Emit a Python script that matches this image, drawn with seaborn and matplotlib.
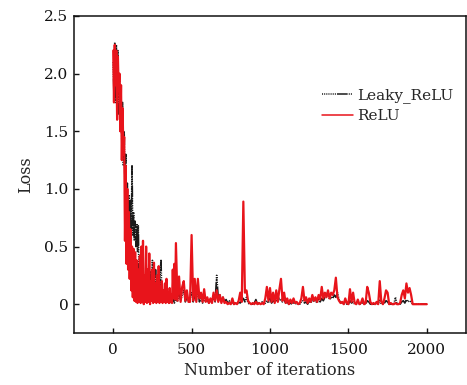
import numpy as np
import pandas as pd
import matplotlib
matplotlib.use("Agg")
import matplotlib.pyplot as plt
import seaborn as sns

# ---- data ----
iters_early = list(range(0, 400, 5))
iters_late = list(range(400, 2001, 10))

relu_early = [
    2.2, 1.75, 2.25, 1.9, 2.2, 1.6, 2.15, 1.85, 2.0, 1.5,
    1.9, 1.25, 1.7, 1.3, 1.45, 0.55, 1.2, 0.35, 1.0, 0.3,
    0.8, 0.22, 0.65, 0.12, 0.5, 0.06, 0.48, 0.03, 0.45, 0.02,
    0.38, 0.01, 0.3, 0.02, 0.42, 0.01, 0.5, 0.02, 0.55, 0.0,
    0.25, 0.02, 0.5, 0.01, 0.3, 0.02, 0.44, 0.0, 0.2, 0.03,
    0.3, 0.01, 0.36, 0.02, 0.18, 0.01, 0.25, 0.02, 0.33, 0.01,
    0.15, 0.02, 0.2, 0.01, 0.12, 0.02, 0.18, 0.01, 0.22, 0.02,
    0.1, 0.01, 0.14, 0.02, 0.08, 0.01, 0.3, 0.05, 0.35, 0.04,
]
relu_late = [
    0.53, 0.03, 0.24, 0.02, 0.15, 0.2, 0.03, 0.12, 0.02, 0.02,
    0.6, 0.03, 0.22, 0.02, 0.22, 0.05, 0.1, 0.02, 0.13, 0.02,
    0.06, 0.01, 0.05, 0.01, 0.1, 0.03, 0.12, 0.02, 0.08, 0.01,
    0.06, 0.01, 0.02, 0.0, 0.01, 0.0, 0.05, 0.0, 0.01, 0.0,
    0.03, 0.1, 0.02, 0.89, 0.1, 0.12, 0.03, 0.01, 0.0, 0.01,
    0.0, 0.02, 0.0, 0.01, 0.0, 0.01, 0.0, 0.05, 0.15, 0.03,
    0.14, 0.02, 0.1, 0.01, 0.12, 0.02, 0.13, 0.22, 0.03, 0.1,
    0.01, 0.05, 0.0, 0.04, 0.01, 0.05, 0.01, 0.02, 0.0, 0.01,
    0.05, 0.15, 0.03, 0.06, 0.01, 0.05, 0.02, 0.08, 0.03, 0.06,
    0.02, 0.08, 0.04, 0.15, 0.05, 0.1, 0.06, 0.12, 0.05, 0.1,
    0.08, 0.12, 0.23, 0.06, 0.03, 0.01, 0.02, 0.0, 0.05, 0.01,
    0.0, 0.13, 0.02, 0.1, 0.01, 0.0, 0.04, 0.0, 0.01, 0.05,
    0.0, 0.01, 0.15, 0.1, 0.02, 0.0, 0.01, 0.0, 0.02, 0.0,
    0.2, 0.02, 0.0, 0.05, 0.12, 0.1, 0.0, 0.01, 0.0, 0.0,
    0.01, 0.0, 0.0, 0.01, 0.08, 0.12, 0.05, 0.18, 0.1, 0.14,
    0.08, 0.0, 0.0, 0.0, 0.0, 0.0, 0.0, 0.0, 0.0, 0.0,
    0.0,
]

leaky_early = [
    2.1, 1.8, 2.27, 1.75, 2.25, 1.8, 2.2, 1.65, 2.0, 1.55,
    1.85, 1.4, 1.75, 1.2, 1.5, 1.0, 1.3, 0.8, 1.05, 0.65,
    0.95, 0.6, 0.9, 0.55, 1.2, 0.6, 0.8, 0.55, 0.72, 0.5,
    0.7, 0.45, 0.68, 0.2, 0.4, 0.03, 0.25, 0.02, 0.2, 0.03,
    0.15, 0.02, 0.2, 0.03, 0.25, 0.05, 0.3, 0.05, 0.28, 0.1,
    0.38, 0.08, 0.35, 0.05, 0.3, 0.04, 0.22, 0.05, 0.2, 0.06,
    0.3, 0.38, 0.05, 0.12, 0.03, 0.1, 0.02, 0.08, 0.02, 0.06,
    0.02, 0.05, 0.01, 0.04, 0.01, 0.05, 0.02, 0.06, 0.01, 0.03,
]
leaky_late = [
    0.05, 0.02, 0.1, 0.03, 0.08, 0.12, 0.02, 0.06, 0.03, 0.05,
    0.1, 0.02, 0.08, 0.03, 0.12, 0.02, 0.06, 0.01, 0.05, 0.02,
    0.04, 0.01, 0.03, 0.02, 0.06, 0.02, 0.25, 0.05, 0.08, 0.02,
    0.06, 0.02, 0.04, 0.01, 0.03, 0.0, 0.02, 0.0, 0.01, 0.0,
    0.02, 0.01, 0.03, 0.05, 0.02, 0.06, 0.01, 0.0, 0.01, 0.0,
    0.01, 0.04, 0.0, 0.01, 0.0, 0.02, 0.0, 0.01, 0.03, 0.01,
    0.05, 0.01, 0.03, 0.02, 0.04, 0.02, 0.05, 0.03, 0.02, 0.04,
    0.01, 0.02, 0.0, 0.01, 0.0, 0.02, 0.0, 0.01, 0.0, 0.0,
    0.02, 0.03, 0.01, 0.02, 0.0, 0.03, 0.01, 0.04, 0.02, 0.03,
    0.01, 0.04, 0.02, 0.05, 0.03, 0.06, 0.1, 0.08, 0.04, 0.06,
    0.05, 0.08, 0.06, 0.1, 0.04, 0.02, 0.01, 0.0, 0.02, 0.0,
    0.0, 0.03, 0.01, 0.02, 0.0, 0.0, 0.01, 0.0, 0.0, 0.02,
    0.0, 0.0, 0.03, 0.02, 0.0, 0.0, 0.0, 0.0, 0.01, 0.0,
    0.04, 0.0, 0.0, 0.01, 0.03, 0.02, 0.0, 0.0, 0.0, 0.0,
    0.06, 0.0, 0.0, 0.0, 0.02, 0.03, 0.01, 0.04, 0.02, 0.03,
    0.02, 0.0, 0.0, 0.0, 0.0, 0.0, 0.0, 0.0, 0.0, 0.0,
    0.0,
]

series_names = ["Leaky_ReLU", "ReLU"]
series_colors = ["#1a1a1a", "#e8141b"]
x_ticks = [0, 500, 1000, 1500, 2000]
y_ticks = [0, 0.5, 1.0, 1.5, 2.0, 2.5]
y_tick_labels = ["0", "0.5", "1.0", "1.5", "2.0", "2.5"]

iters = iters_early + iters_late
df_leaky = pd.DataFrame({"iteration": iters, "loss": leaky_early + leaky_late,
                         "model": series_names[0]})
df_relu = pd.DataFrame({"iteration": iters, "loss": relu_early + relu_late,
                        "model": series_names[1]})

# ---- style ----
sns.set_style("ticks")
plt.rcParams["font.family"] = ["DejaVu Serif"]
plt.rcParams["axes.linewidth"] = 1.1

fig = plt.figure(figsize=(4.67, 3.85), dpi=100)
ax = fig.add_axes([74 / 467, 1 - 333 / 385, 392 / 467, 317 / 385])

dot_dash = (0, (0.7, 0.7, 0.7, 0.7, 0.7, 0.7, 0.7, 0.7, 0.7, 0.7, 0.7, 0.7, 0.7, 0.7, 7, 0.7))
sns.lineplot(data=df_leaky, x="iteration", y="loss", color=series_colors[0],
             label=series_names[0], estimator=None, sort=False,
             linewidth=1.2, linestyle=dot_dash, ax=ax)
sns.lineplot(data=df_relu, x="iteration", y="loss", color=series_colors[1],
             label=series_names[1], estimator=None, sort=False,
             linewidth=1.6, ax=ax)

ax.set_xlim(-250, 2250)
ax.set_ylim(-0.25, 2.5)
ax.set_xticks(x_ticks)
ax.set_xticklabels([str(t) for t in x_ticks])
ax.set_yticks(y_ticks)
ax.set_yticklabels(y_tick_labels)
ax.tick_params(direction="in", length=3.5, width=1.0, labelsize=11, colors="#111111")
ax.tick_params(axis="x", pad=7)
ax.tick_params(axis="y", pad=4)
for s in ax.spines.values():
    s.set_visible(True)
    s.set_color("#111111")

ax.set_xlabel("Number of iterations", fontsize=11.5, labelpad=4)
ax.set_ylabel("Loss", fontsize=11.5, labelpad=7)

leg = ax.legend(frameon=False, loc="upper left", bbox_to_anchor=(322 / 467, 1 - 88 / 385),
                bbox_transform=fig.transFigure, fontsize=11, handlelength=2.0,
                handletextpad=0.3, labelspacing=0.4, borderpad=0, borderaxespad=0)
for h in leg.get_lines():
    h.set_linewidth(1.1)

fig.savefig("out.png", dpi=100)
